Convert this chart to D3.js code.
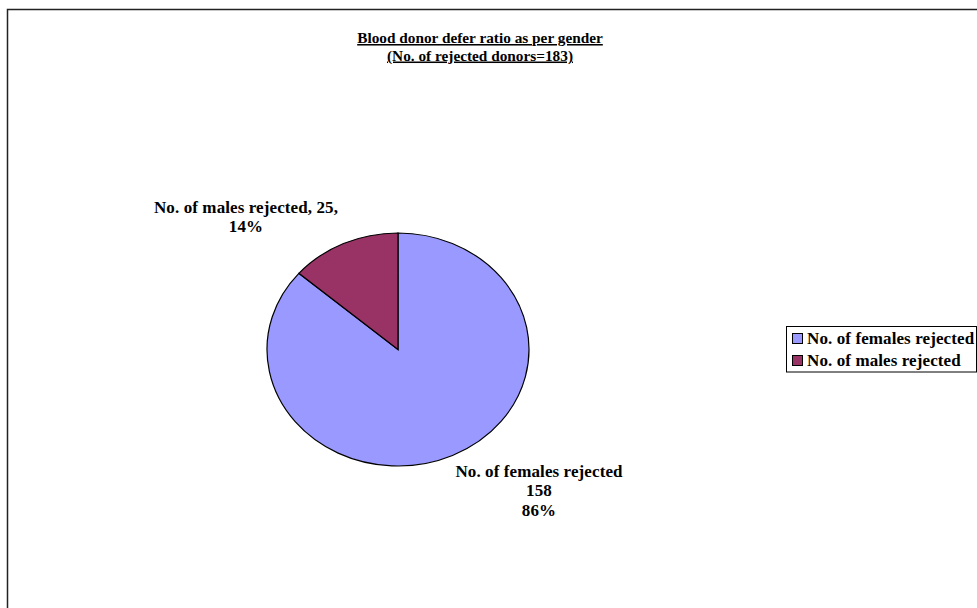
<!DOCTYPE html>
<html><head><meta charset="utf-8">
<script src="https://cdn.jsdelivr.net/npm/d3@7"></script>
<style>body{margin:0;background:#fff}svg{display:block}text{font-family:"Liberation Serif","Times New Roman",serif;font-weight:bold;fill:#000}</style>
</head><body>
<svg id="c" width="977" height="608"></svg>
<script>
const categories = ["No. of females rejected", "No. of males rejected"];
const values = [158, 25];
const percents = ["86%", "14%"];
const colors = ["#9999FF", "#993366"];
const titleLines = ["Blood donor defer ratio as per gender", "(No. of rejected donors=183)"];

const svg = d3.select("#c");
// outer frame (cropped at right/bottom)
svg.append("rect").attr("x", 7.5).attr("y", 9.5).attr("width", 1000).attr("height", 1000)
  .attr("fill", "none").attr("stroke", "#222").attr("stroke-width", 1.5);

// title
titleLines.forEach((t, i) => {
  svg.append("text").attr("x", 480).attr("y", 43 + i * 17.5).attr("text-anchor", "middle")
    .style("font-size", "15.3px")
    .attr("text-decoration", "underline").text(t);
});

// pie (elliptical, stretched horizontally)
const cx = 398, cy = 349.5, rx = 131, ry = 116.5;
const pie = d3.pie().sort(null).value(d => d);
const arcs = pie(values);
const arc = d3.arc().innerRadius(0).outerRadius(ry);
const g = svg.append("g").attr("transform", `translate(${cx},${cy}) scale(${rx / ry},1)`);
g.selectAll("path").data(arcs).join("path")
  .attr("d", arc).attr("fill", (d, i) => colors[i])
  .attr("stroke", "#000").attr("stroke-width", 1.2)
  .attr("vector-effect", "non-scaling-stroke");

// data labels
const lbl = svg.append("g").style("font-size", "17px").style("letter-spacing", "0.1px");
const femaleLines = [categories[0], String(values[0]), percents[0]];
femaleLines.forEach((t, i) => {
  lbl.append("text").attr("x", 539).attr("y", 477 + i * 19.3).attr("text-anchor", "middle").text(t);
});
const maleLines = [categories[1] + ", " + values[1] + ",", percents[1]];
maleLines.forEach((t, i) => {
  lbl.append("text").attr("x", 246).attr("y", 213 + i * 19.3).attr("text-anchor", "middle").text(t);
});

// legend
const lg = svg.append("g");
lg.append("rect").attr("x", 786.5).attr("y", 326.5).attr("width", 190).attr("height", 45.5)
  .attr("fill", "#fff").attr("stroke", "#000").attr("stroke-width", 1);
categories.forEach((c, i) => {
  lg.append("rect").attr("x", 792.5).attr("y", 333.5 + i * 22).attr("width", 10).attr("height", 10)
    .attr("fill", colors[i]).attr("stroke", "#000").attr("stroke-width", 1);
  lg.append("text").attr("x", 807).attr("y", 344 + i * 22)
    .style("font-size", "17px").style("letter-spacing", "0.1px").text(c);
});
</script>
</body></html>
